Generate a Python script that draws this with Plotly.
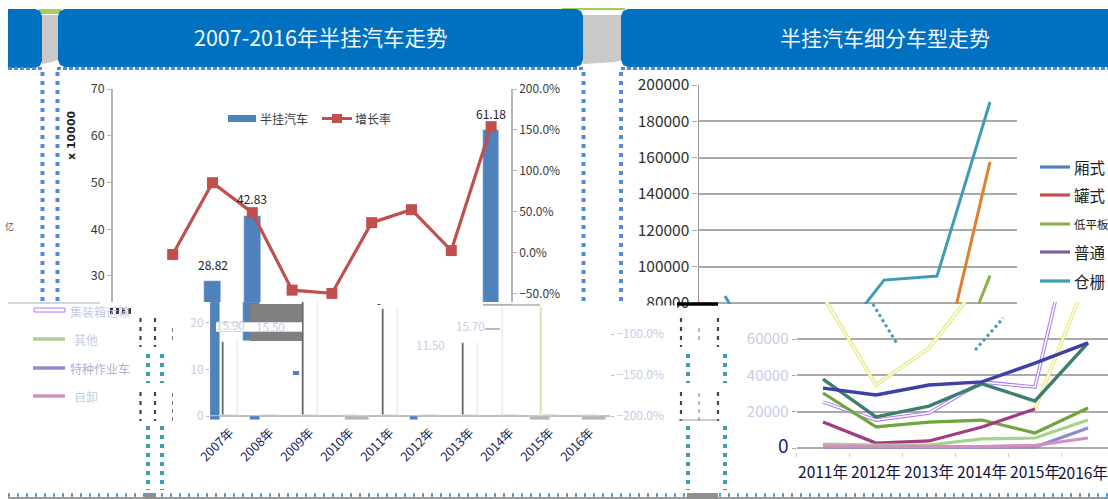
import plotly.graph_objects as go

W, H = 1108, 499
def X(p): return p / W
def Y(p): return 1 - p / H

# ---------------- data
years_a = ["2007年","2008年","2009年","2010年","2011年","2012年","2013年","2014年","2015年","2016年"]
semi_values = [15.9, 15.5, 28.82, 42.83, 22.92, 11.5, 15.7, 23.40, 23.95, 61.18]
growth_years = years_a[1:]
growth = [-0.024, 0.854, 0.488, -0.46, -0.50, 0.366, 0.524, 0.024, 1.54]
years_b = ["2011年","2012年","2013年","2014年","2015年","2016年"]
xiang = [33000, 29200, 34700, 36400, 46800, 57900]
guan = [38000, 17100, 23100, 35300, 25900, 57900]
putong = [30300, 11600, 14300, 15400, 8300, 22000]
dipingban = [14300, 2750, 3900, 11600, 21500, 95000]
cangzha = [83700, 34700, 55000, 92500, 94700, 190600]
jizhuang = [25300, 15400, 19300, 36400, 33600, 157600]
qita_a = [2200, 1650, 1650, 5000, 5500, 15400]
qita_b = [500, 300, 500, 500, 500, 11000]
qita_c = [1000, 800, 800, 800, 1500, 5500]
left_ticks = [30, 40, 50, 60, 70]
low_ticks = [0, 10, 20]
pct_ticks = [-0.5, 0, 0.5, 1.0, 1.5, 2.0]
low_pct_ticks = [-2.0, -1.5, -1.0]
right_ticks = [80000, 100000, 120000, 140000, 160000, 180000, 200000]
low_right_ticks = [0, 20000, 40000, 60000, 80000]

CJK = "Noto Sans CJK SC"
DARK = "#3a3a3a"
GHOST = "#c6cbea"
BLUE = "#4f81bd"
RED = "#c0504d"
TEAL = "#3f9cb5"
ORANGE = "#e07f2e"
GREEN = "#8cb04a"

fig = go.Figure()
idx = list(range(10))

# ---- upper left
fig.add_trace(go.Bar(x=idx, y=semi_values, width=0.42, marker_color=BLUE,
                     xaxis="x", yaxis="y", showlegend=False))
fig.add_trace(go.Scatter(x=idx[1:], y=growth, mode="lines+markers", xaxis="x", yaxis="y2",
                         line=dict(color=RED, width=3.2),
                         marker=dict(symbol="square", size=11, color=RED), showlegend=False))

# ---- lower left (the same series, displaced)
edge_i = [0, 2, 4, 6]
fig.add_trace(go.Bar(x=edge_i, y=[semi_values[i] for i in edge_i], width=0.05, offset=-0.2,
                     marker_color="#555555", xaxis="x3", yaxis="y3", showlegend=False))
fig.add_trace(go.Bar(x=edge_i, y=[semi_values[i] for i in edge_i], width=0.03, offset=0.18,
                     marker_color="#eef0b0", xaxis="x3", yaxis="y3", showlegend=False))
fig.add_trace(go.Bar(x=[7, 7], y=[semi_values[7]] * 2, width=[0.03, 0.04], offset=[-0.2, 0.76],
                     marker_color=["#e4efe0", "#dfe6a0"], xaxis="x3", yaxis="y3", showlegend=False))
fig.add_trace(go.Bar(x=idx, y=[0.3] * 10, width=0.4, marker_color=GREEN,
                     xaxis="x3", yaxis="y3", showlegend=False))
# fragments of the displaced upper bars that show through
fig.add_trace(go.Bar(x=[0, 0, 0, 1, 5], y=[24.4, 8.4, -0.8, -0.8, -0.8],
                     base=[0, 16, 0, 0, 0], width=[0.24, 0.42, 0.24, 0.24, 0.2],
                     offset=[-0.5, 0.33, -0.5, -0.5, -0.5],
                     marker_color=BLUE, xaxis="x3", yaxis="y3", showlegend=False))
fig.add_trace(go.Bar(x=[3, 8, 9], y=[-0.8, -0.8, -0.8], width=[0.6, 0.5, 0.6], offset=[-0.12, -0.5, -0.2],
                     marker_color="#b5b5b5", xaxis="x3", yaxis="y3", showlegend=False))
fig.add_trace(go.Scatter(x=idx[1:], y=growth, mode="lines", line=dict(color=RED), xaxis="x3", yaxis="y4",
                         showlegend=False))

# ---- upper right
for vals, col in ((dipingban, GREEN), (jizhuang, ORANGE), (cangzha, TEAL)):
    fig.add_trace(go.Scatter(x=list(range(6)), y=vals, mode="lines", xaxis="x5", yaxis="y5",
                             line=dict(color=col, width=3), showlegend=False))

# ---- lower right
xb = list(range(6))
def low(vals, col, w=3.2, x=None, dash=None):
    fig.add_trace(go.Scatter(x=x if x is not None else xb, y=vals, mode="lines", xaxis="x6", yaxis="y6",
                             line=dict(color=col, width=w, dash=dash), showlegend=False))

for v, c in ((cangzha, "#e6e66e"), (jizhuang, "#b07cf0")):
    low(v, c, 3.6)
    low(v, "#ffffff", 1.5)
low(dipingban[4:], "#e6e66e", 3.6, x=xb[4:])
low(dipingban[4:], "#ffffff", 1.5, x=xb[4:])
low(guan, "#3d7f6f", 3.4)
low(xiang, "#3f3fa5", 3.4)
low(putong, "#6fa53a", 3.2)
low(dipingban[:5], "#a23c80", 3.2, x=xb[:5])
low(qita_a, "#a9d18e", 3.2)
low(qita_b, "#8a8ad0", 3.2)
low(qita_c, "#d48fc0", 3.2)
low([79340, 57300], TEAL, 3, x=[0.94, 1.4], dash="dot")
low([54000, 71600], TEAL, 3, x=[2.87, 3.4], dash="dot")

# ---------------- decoration
shapes = []
def rect(x0, y0, x1, y1, fill, line=None, lw=0, layer="above"):
    shapes.append(dict(type="rect", xref="paper", yref="paper", x0=X(x0), x1=X(x1), y0=Y(y0), y1=Y(y1),
                       fillcolor=fill, line=dict(color=line or fill, width=lw), layer=layer))
def seg(x0, y0, x1, y1, col, lw=1, dash=None, layer="above"):
    shapes.append(dict(type="line", xref="paper", yref="paper", x0=X(x0), x1=X(x1), y0=Y(y0), y1=Y(y1),
                       line=dict(color=col, width=lw, dash=dash), layer=layer))
def poly(points, fill):
    d = "M" + " L".join(f"{X(a):.5f},{Y(b):.5f}" for a, b in points) + " Z"
    shapes.append(dict(type="path", xref="paper", yref="paper", path=d, fillcolor=fill,
                       line=dict(color=fill, width=0), layer="below"))
def round_box(x0, y0, x1, y1, r=7, left=True, right=True):
    pts = []
    pts += [(x0 + r, y0), (x1 - r, y0)] if left else [(x0, y0), (x1 - r, y0)]
    pts += [(x1 - r * 0.3, y0 + r * 0.3), (x1, y0 + r), (x1, y1 - r), (x1 - r * 0.3, y1 - r * 0.3), (x1 - r, y1)] if right else [(x1, y0), (x1, y1)]
    pts += [(x0 + r, y1), (x0 + r * 0.3, y1 - r * 0.3), (x0, y1 - r), (x0, y0 + r), (x0 + r * 0.3, y0 + r * 0.3)] if left else [(x0, y1)]
    poly(pts, "#0070c0")

for a, b in ((42, 58), (583, 622)):
    poly([(a, 15), (b, 15), (b, 60), (b - 6, 62), (a, 64)], "#c9c9c9")
rect(38, 9, 61, 14, "#a4cf5c", layer="below")
rect(562, 8, 625, 10, "#a4cf5c", layer="below")
round_box(8, 9, 42, 68, left=False)
round_box(58, 9, 583, 67)
round_box(621, 9, 1108, 67, right=False)

DOT = "#4f8adc"
for a, b in ((8, 42), (57, 583), (621, 1108)):
    seg(a, 68.5, b, 68.5, DOT, 3, "4px,2px")
for x_ in (42.5, 57.5, 583.5, 621):
    seg(x_, 72, x_, 303, DOT, 4, "4px,5px")

# lower dotted frames
seg(8, 495, 1108, 495, "#3f98d8", 3.5, "2px,7px")
seg(8, 498, 1108, 498, "#9a9a9a", 2)
rect(145, 493, 156, 499, "#8f8f8f")
rect(687, 493, 718, 499, "#8f8f8f")
for x_ in (148, 162, 688, 725):
    seg(x_, 354, x_, 383, "#3a9db0", 4, "4px,5px")
    seg(x_, 426, x_, 490, "#3a9db0", 4, "4px,5px")
for x_ in (140.5, 155, 681, 718):
    seg(x_, 318, x_, 347, "#444444", 2.2, "4px,5px")
    seg(x_, 392, x_, 421, "#444444", 2.2, "4px,5px")
for x_ in (172.5, 699):
    seg(x_, 328, x_, 340, "#777777", 1, "4px,4px")
    seg(x_, 393, x_, 424, "#777777", 1, "4px,4px")

# glitch blocks
rect(250, 304, 302, 322, "#808080")
rect(250, 332, 302, 341, "#808080")
rect(216, 322, 302, 332, "#ffffff")
seg(216, 322.5, 302, 322.5, "#d8d8d8", 1)
seg(216, 331.5, 302, 331.5, "#d8d8d8", 1)
rect(293, 371, 299, 375, BLUE)
seg(483, 305, 540, 305, "#8a8a8a", 1.2)
seg(485, 329, 500, 329, "#8a8a8a", 1.2)
seg(8, 303, 100, 303, "#c8c8c8", 1.5)
seg(511, 304.5, 483, 304.5, "#b0b0b0", 1.2)
seg(677, 304, 718, 304, "#000000", 3.5)
seg(678, 420, 718, 420, "#9a9a9a", 1.2)
rect(635, 305.5, 677, 314, "#ffffff")

# wrapped legend fragments, lower left
rect(34, 308, 65, 312, "#ffffff", "#b07cf0", 1)
seg(33, 339, 65, 339, "#a9d18e", 3.4)
seg(33, 368, 65, 368, "#8a8ad0", 3.4)
seg(33, 396, 65, 396, "#d48fc0", 3.4)
seg(110, 311, 132, 311, "#333333", 6, "3px,3px")

# upper-left legend
rect(228, 115, 256, 122, BLUE)
seg(322, 118.5, 352, 118.5, RED, 3)
rect(332, 114, 342, 123, RED)

# upper-right legend
LEG = ((167, "厢式", "#4f81bd", 15.5), (195, "罐式", RED, 15.5), (224, "低平板", GREEN, 11.5),
       (252, "普通", "#7e5fa5", 15.5), (281, "仓栅", TEAL, 15.5))
for y_, t_, c_, s_ in LEG:
    seg(1040, y_, 1070, y_, c_, 3.2)

ann = []
def text(x, y, t, size=12, color=DARK, anchor="left", angle=0, weight=None, fam=CJK):
    f = dict(family=fam, size=size, color=color)
    if weight: f["weight"] = weight
    ann.append(dict(x=X(x), y=Y(y), xref="paper", yref="paper", text=t, showarrow=False, xanchor=anchor,
                    yanchor="middle", font=f, textangle=angle))

text(320.5, 37, "2007-2016年半挂汽车走势", 21.5, "#f2f7fb", "center")
text(884.5, 37, "半挂汽车细分车型走势", 21, "#f2f7fb", "center")
text(258, 118, "半挂汽车", 12, DARK)
text(353, 118, "增长率", 12, DARK)
text(72, 135, "x 10000", 11, "#222222", "center", -90, "bold", "DejaVu Sans")
text(9, 226, "亿", 9, "#555555", "center")
for y_, t_, c_, s_ in LEG:
    text(1072, y_, t_, s_, "#222222")
text(68, 311, "集装箱运输", 12, GHOST)
text(72, 339, "其他", 12, GHOST)
text(68, 368, "特种作业车", 12, "#aab0d8")
text(72, 396, "自卸", 12, GHOST)
text(379, 303, "-", 11, "#222222", "center")

# last category label on the lower-right axis sits against the page edge
ann.append(dict(x=5, y=0, xref="x6", yref="y6", text=years_b[5], showarrow=False, xanchor="center",
                yanchor="middle", yshift=-24, xshift=-5,
                font=dict(family=CJK, size=15.5, color="#101040")))

# value labels, placed through the axes
for i in (2, 3, 4, 7, 8, 9):
    ann.append(dict(x=i, y=semi_values[i], xref="x", yref="y", text=f"{semi_values[i]:.2f}", showarrow=False,
                    yshift=9 if i == 4 else 17, font=dict(family=CJK, size=12, color="#222222")))
for i in (0, 1, 5, 6):
    ann.append(dict(x=i, y=semi_values[i], xref="x3", yref="y3", text=f"{semi_values[i]:.2f}", showarrow=False,
                    yshift=17, font=dict(family=CJK, size=11.5, color=GHOST)))

def ax(**k):
    base = dict(showgrid=False, zeroline=False, showline=False, ticks="", showticklabels=False, automargin=False)
    base.update(k)
    return base

AX = "#b5b5b5"
tfont = dict(family=CJK, size=12.5, color=DARK)

layout = dict(
    width=W, height=H, autosize=False, margin=dict(l=0, r=0, t=0, b=0, pad=0),
    paper_bgcolor="white", plot_bgcolor="rgba(0,0,0,0)", barmode="overlay", showlegend=False,
    shapes=shapes, annotations=ann, bargap=0,
    # upper left
    xaxis=ax(domain=[X(113), X(511)], range=[-0.5, 9.5], anchor="y"),
    yaxis=ax(domain=[Y(302), Y(89)], range=[24.41, 70], anchor="x", showline=True, linecolor=AX, linewidth=1.5,
             ticks="outside", ticklen=4, tickcolor=AX, showticklabels=True, tickvals=left_ticks, tickfont=tfont),
    yaxis2=ax(domain=[Y(302), Y(89)], range=[-0.605, 2.0], anchor="x", overlaying="y", side="right", showline=True,
              linecolor=AX, linewidth=1.5, ticks="outside", ticklen=4, tickcolor=AX, showticklabels=True,
              tickvals=pct_ticks, tickformat=".1%", tickfont=dict(family=CJK, size=12, color=DARK)),
    # lower left
    xaxis3=ax(domain=[X(210), X(610)], range=[-0.5, 9.5], anchor="y3", showticklabels=True, tickvals=idx,
              ticktext=years_a, tickangle=-45, tickfont=dict(family=CJK, size=12.5, color="#1c1c60")),
    yaxis3=ax(domain=[Y(422), Y(302)], range=[-1.28, 24.41], anchor="x3", zeroline=True, zerolinecolor="#bbbbbb",
              zerolinewidth=2, ticks="outside", ticklen=3, tickcolor="#bbbbbb", showticklabels=True,
              tickvals=low_ticks, tickfont=dict(family=CJK, size=12, color=GHOST)),
    yaxis4=ax(domain=[Y(422), Y(302)], range=[-2.073, -0.605], anchor="x3", overlaying="y3", side="right",
              ticks="outside", ticklen=3, tickcolor="#bbbbbb", showticklabels=True, tickvals=low_pct_ticks,
              tickformat=".1%", tickfont=dict(family=CJK, size=12, color=GHOST)),
    # upper right
    xaxis5=ax(domain=[X(698.5), X(1016.5)], range=[-0.5, 5.5], anchor="y5"),
    yaxis5=ax(domain=[Y(304), Y(85)], range=[79340, 200000], anchor="x5", showline=True, linecolor="#999999",
              linewidth=1.2, showgrid=True, gridcolor="#aaaaaa", gridwidth=1.5, ticks="outside", ticklen=5,
              tickcolor="#aaaaaa", showticklabels=True, tickvals=right_ticks, tickformat="d",
              tickfont=dict(family=CJK, size=15.5, color="#303030")),
    # lower right
    xaxis6=ax(domain=[X(796.5), 1], range=[-0.5, 5.377], anchor="y6", showticklabels=True, tickvals=xb[:5],
              ticktext=years_b[:5], ticklabelstandoff=9, tickfont=dict(family=CJK, size=15.5, color="#101040"),
              minor=dict(ticks="outside", ticklen=4, tickcolor="#cccccc", tickvals=[-0.5, 0.5, 1.5, 2.5, 3.5, 4.5])),
    yaxis6=ax(domain=[Y(452), Y(302)], range=[-2200, 80440], anchor="x6", showgrid=True, gridcolor="#aaaaaa",
              gridwidth=1.5, ticks="outside", ticklen=4, tickcolor="#aaaaaa", showticklabels=True,
              tickvals=low_right_ticks,
              ticktext=["<span style='color:#1a1a90;font-size:19px'>0</span>", "20000", "40000", "60000", ""],
              tickfont=dict(family=CJK, size=15, color=GHOST)),
)
fig.update_layout(**layout)
fig.write_html("out.html", config={"displayModeBar": False},
               post_script="document.body.style.margin='0';document.body.style.overflow='hidden';")
